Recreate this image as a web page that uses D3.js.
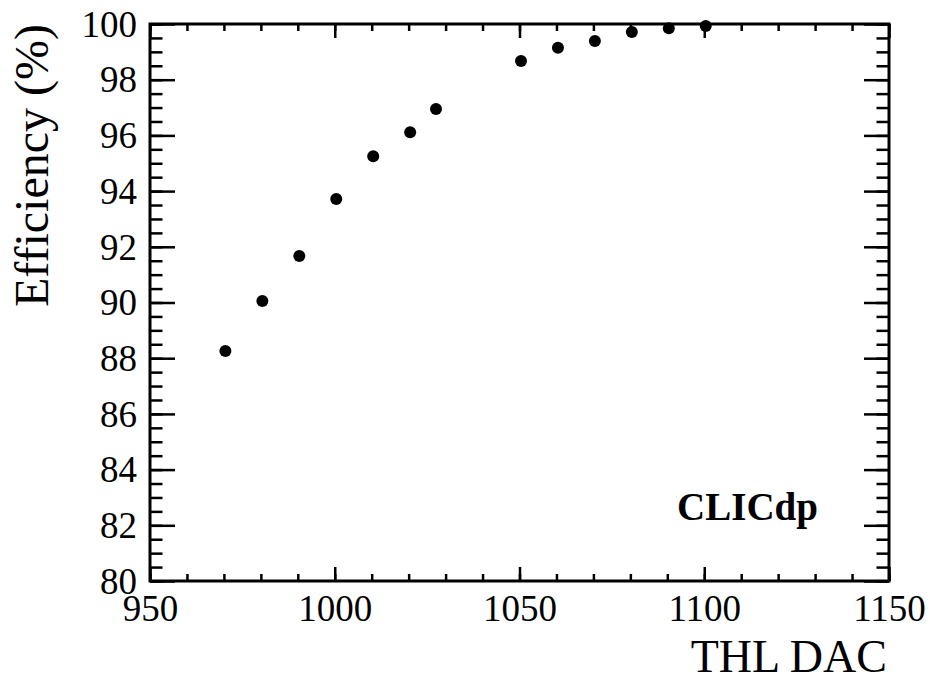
<!DOCTYPE html>
<html>
<head>
<meta charset="utf-8">
<script src="https://cdn.jsdelivr.net/npm/d3@7"></script>
<style>
  body { margin: 0; background: #fff; }
  svg text { font-family: "Liberation Serif", "Times New Roman", Tinos, Times, "DejaVu Serif", serif !important; }
  .axis path.domain { display: none; }
  .axis line { stroke: #000; stroke-width: 2.5; }
</style>
</head>
<body>
<div id="plot"></div>
<script>
// THL DAC settings and measured efficiency (%)
var thl        = [970, 980, 990, 1000, 1010, 1020, 1027, 1050, 1060, 1070, 1080, 1090, 1100];
var efficiency = [88.26, 90.05, 91.67, 93.72, 95.25, 96.11, 96.95, 98.67, 99.15, 99.39, 99.71, 99.85, 99.93];

var xTicks = [950, 1000, 1050, 1100, 1150];
var yTicks = [80, 82, 84, 86, 88, 90, 92, 94, 96, 98, 100];

var W = 930, H = 679;
var margin = {top: 24, right: 41, bottom: 98, left: 150};
var width  = W - margin.left - margin.right;   // 739
var height = H - margin.top - margin.bottom;   // 557

var x = d3.scaleLinear().domain([950, 1150]).range([0, width]);
var y = d3.scaleLinear().domain([80, 100]).range([height, 0]);

// minor ticks, every 10 in x and 0.5 in y
var xMinor = d3.range(950, 1150.1, 10);
var yMinor = d3.range(80, 100.01, 0.5);

var serif = '"Liberation Serif", "Times New Roman", Tinos, Times, serif';

var svg = d3.select("#plot").append("svg")
    .attr("width", W)
    .attr("height", H)
  .append("g")
    .attr("transform", "translate(" + margin.left + "," + margin.top + ")");

// bottom axis with labels
svg.append("g")
    .attr("class", "axis")
    .attr("transform", "translate(0," + height + ")")
    .call(d3.axisBottom(x).tickValues(xTicks).tickSize(-14).tickPadding(14)
      .tickFormat(d3.format("d")))
    .attr("font-family", serif)
    .selectAll("text")
    .attr("fill", "#000")
    .style("font-size", "37px");

svg.append("g")
    .attr("class", "axis")
    .attr("transform", "translate(0," + height + ")")
    .call(d3.axisBottom(x).tickValues(xMinor).tickSize(-7).tickFormat(""));

// top mirror
svg.append("g")
    .attr("class", "axis")
    .call(d3.axisTop(x).tickValues(xTicks).tickSize(-14).tickFormat(""));
svg.append("g")
    .attr("class", "axis")
    .call(d3.axisTop(x).tickValues(xMinor).tickSize(-7).tickFormat(""));

// left axis with labels
svg.append("g")
    .attr("class", "axis")
    .call(d3.axisLeft(y).tickValues(yTicks).tickSize(-25).tickPadding(13)
      .tickFormat(d3.format("d")))
    .attr("font-family", serif)
    .selectAll("text")
    .attr("fill", "#000")
    .attr("dy", "0.33em")
    .style("font-size", "37px");

svg.append("g")
    .attr("class", "axis")
    .call(d3.axisLeft(y).tickValues(yMinor).tickSize(-12.5).tickFormat(""));

// right mirror
svg.append("g")
    .attr("class", "axis")
    .attr("transform", "translate(" + width + ",0)")
    .call(d3.axisRight(y).tickValues(yTicks).tickSize(-25).tickFormat(""));
svg.append("g")
    .attr("class", "axis")
    .attr("transform", "translate(" + width + ",0)")
    .call(d3.axisRight(y).tickValues(yMinor).tickSize(-12.5).tickFormat(""));

// frame
svg.append("rect")
    .attr("width", width)
    .attr("height", height)
    .attr("fill", "none")
    .attr("stroke", "#000")
    .attr("stroke-width", 3);

// points
svg.selectAll("circle.pt")
    .data(thl)
  .enter().append("circle")
    .attr("class", "pt")
    .attr("cx", function (d) { return x(d) + 1.5; })
    .attr("cy", function (d, i) { return y(efficiency[i]); })
    .attr("r", 6)
    .attr("fill", "#000");

// axis titles
svg.append("text")
    .attr("x", width - 2)
    .attr("y", height + 91)
    .attr("text-anchor", "end")
    .attr("font-family", serif)
    .style("font-size", "46px")
    .text("THL DAC");

svg.append("text")
    .attr("transform", "translate(-102,0) rotate(-90)")
    .attr("text-anchor", "end")
    .attr("font-family", serif)
    .style("font-size", "48px")
    .text("Efficiency (%)");

svg.append("text")
    .attr("x", width - 71)
    .attr("y", height - 61)
    .attr("text-anchor", "end")
    .attr("font-family", serif)
    .style("font-size", "39px")
    .style("font-weight", "bold")
    .text("CLICdp");
</script>
</body>
</html>
